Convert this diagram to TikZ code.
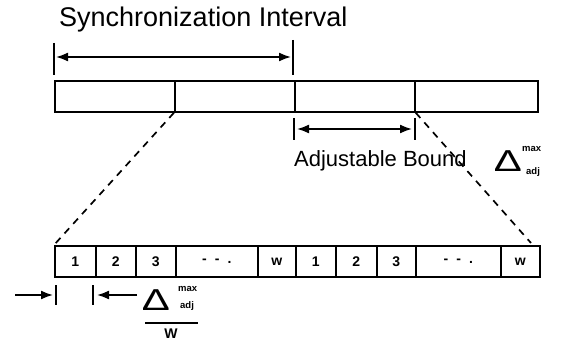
\documentclass[tikz,border=0pt]{standalone}
\usepackage{fontspec}
\setmainfont{Liberation Sans}
\usetikzlibrary{arrows.meta}
\tikzset{
  ln/.style={line width=1.7pt},
  cell/.style={ln, draw, rectangle, inner sep=0pt, minimum height=31pt, anchor=north west, font=\fontsize{14}{16}\selectfont\bfseries},
  tick/.style={ln},
  dimarrow/.style={ln, -{Latex[length=12pt,width=9pt]}},
  dbl/.style={ln, {Latex[length=12pt,width=9pt]}-{Latex[length=12pt,width=9pt]}},
  dashline/.style={ln, dash pattern=on 7pt off 6pt},
  smalltxt/.style={inner sep=0pt, font=\fontsize{9.5}{10}\selectfont\bfseries},
  deltatxt/.style={inner sep=0pt, font=\fontsize{42}{44}\selectfont},
}
\newcommand{\flatdelta}{\scalebox{1}[0.72]{Δ}}
\newcommand{\dashes}{-\hspace{8pt}-\hspace{8pt}.}
\begin{document}
\begin{tikzpicture}[x=1pt,y=-1pt]
\useasboundingbox (0,0) rectangle (565,342);
% title
\node[anchor=west, inner sep=0pt, font=\fontsize{27}{30}\selectfont] (title) at (59,20) {Synchronization Interval};
% top bar
\node[cell, minimum width=120pt] (t1) at (54,80) {};
\node[cell, minimum width=120pt] (t2) at (174,80) {};
\node[cell, minimum width=120pt] (t3) at (294,80) {};
\node[cell, minimum width=123pt] (t4) at (414,80) {};
% sync interval dimension
\coordinate (sL1) at (54,43); \coordinate (sL2) at (54,75);
\coordinate (sR1) at (293,40); \coordinate (sR2) at (293,75);
\draw[tick] (sL1) -- (sL2);
\draw[tick] (sR1) -- (sR2);
\coordinate (sa) at (56,57); \coordinate (sb) at (291,57);
\draw[dbl] (sa) -- (sb);
% adjustable bound dimension
\coordinate (aL1) at (294,118); \coordinate (aL2) at (294,140);
\coordinate (aR1) at (415,118); \coordinate (aR2) at (415,140);
\draw[tick] (aL1) -- (aL2);
\draw[tick] (aR1) -- (aR2);
\coordinate (aa) at (297,129); \coordinate (ab) at (412,129);
\draw[dbl] (aa) -- (ab);
\node[anchor=west, inner sep=0pt, font=\fontsize{22}{24}\selectfont] (adjb) at (294,161) {Adjustable Bound};
\node[deltatxt] (d1) at (508,161) {\flatdelta};
\node[smalltxt, anchor=west] (d1max) at (522,149) {max};
\node[smalltxt, anchor=west] (d1adj) at (526,172) {adj};
% bottom bar
\node[cell, minimum width=41pt] (b1) at (54,245) {1};
\node[cell, minimum width=40pt] (b2) at (95,245) {2};
\node[cell, minimum width=40pt] (b3) at (135,245) {3};
\node[cell, minimum width=82pt] (b4) at (175,245) {\dashes};
\node[cell, minimum width=38pt] (b5) at (257,245) {w};
\node[cell, minimum width=40pt] (b6) at (295,245) {1};
\node[cell, minimum width=41pt] (b7) at (335,245) {2};
\node[cell, minimum width=39pt] (b8) at (376,245) {3};
\node[cell, minimum width=85pt] (b9) at (415,245) {\dashes};
\node[cell, minimum width=39pt] (b10) at (500,245) {w};
% dashed zoom lines
\coordinate (zr) at (531,243);
\draw[dashline] (t2.south west) -- (b1.north west);
\draw[dashline] (t3.south east) -- (zr);
% slot width dimension
\coordinate (wL1) at (56,285); \coordinate (wL2) at (56,305);
\coordinate (wR1) at (93,285); \coordinate (wR2) at (93,305);
\draw[tick] (wL1) -- (wL2);
\draw[tick] (wR1) -- (wR2);
\coordinate (la) at (15,295); \coordinate (lb) at (53,295);
\draw[dimarrow] (la) -- (lb);
\coordinate (ra) at (137,295); \coordinate (rb) at (97,295);
\draw[dimarrow] (ra) -- (rb);
\node[deltatxt] (d2) at (156,300) {\flatdelta};
\node[smalltxt, anchor=west] (d2max) at (178,289) {max};
\node[smalltxt, anchor=west] (d2adj) at (180,306) {adj};
\coordinate (fa) at (145,323); \coordinate (fb) at (198,323);
\draw[ln] (fa) -- (fb);
\node[inner sep=0pt, font=\fontsize{14}{16}\selectfont\bfseries] (wden) at (171,334) {W};
\end{tikzpicture}
\end{document}
